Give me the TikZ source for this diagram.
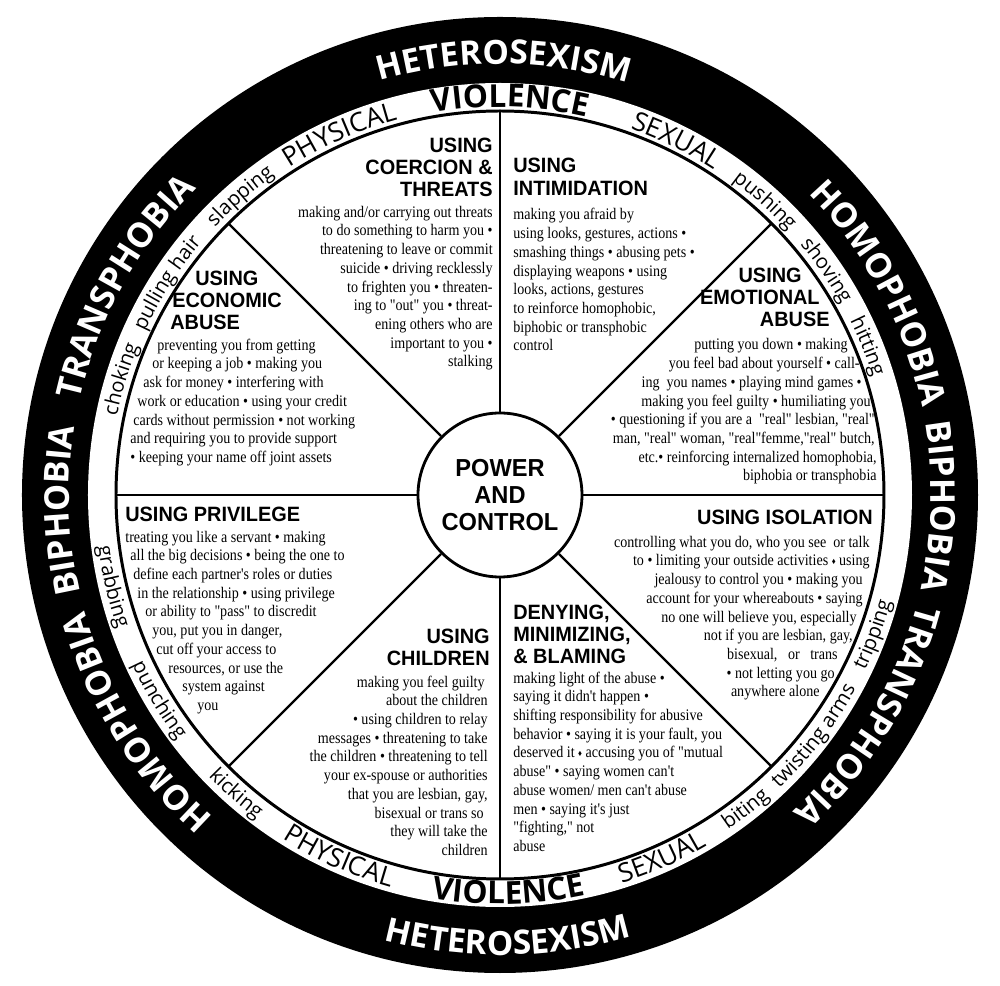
\documentclass[tikz,border=0pt]{standalone}
\usepackage{fontspec}
\usetikzlibrary{decorations.text}
\newfontfamily\bodyfont{Liberation Serif}[FakeStretch=0.87]
\newfontfamily\headfont{Liberation Sans}[FakeStretch=0.96]
\newfontfamily\ringfont{Open Sans}
\newcommand{\dmd}{\raisebox{0.25ex}{\fontsize{5}{5}\selectfont ♦}}
\newcommand{\wordfmt}{\fontsize{11.5}{11.5}\selectfont\ringfont}
\newcommand{\capfmt}{\fontsize{15}{15}\selectfont\ringfont}
\newcommand{\violfmt}{\fontsize{18}{18}\selectfont\ringfont\bfseries}
\newcommand{\bandfmt}{\fontsize{19}{19}\selectfont\ringfont\bfseries\color{white}}
\newcommand{\phobfmt}{\fontsize{19.5}{19.5}\selectfont\ringfont\bfseries\color{white}}
% text on the rings: centre angle, radius, format, text
\newcommand{\cwtext}[4]{\path[decorate,decoration={text along path,text align=center,text={|#3|#4}}] (#1+60:#2) arc[start angle=#1+60,end angle=#1-60,radius=#2];}
\newcommand{\ccwtext}[4]{\path[decorate,decoration={text along path,text align=center,text={|#3|#4}}] (#1-60:#2) arc[start angle=#1-60,end angle=#1+60,radius=#2];}

\begin{document}
\begin{tikzpicture}[
    spoke/.style={line width=1.4pt},
    heading/.style={font=\headfont\bfseries\fontsize{11.8}{12.8}\selectfont, inner sep=0pt},
    body/.style={font=\bodyfont\fontsize{9.2}{10.65}\selectfont, inner sep=0pt}]

        \useasboundingbox (-10,-9.82) rectangle (10,9.9);

        \fill[black] (0,0) circle (9.56cm);
        \fill[white] (0,0) circle (8.24cm);
        \draw[line width=1.7pt] (0,0) circle (7.68cm);

        \node[circle, draw, line width=1.6pt, fill=white, minimum size=3.28cm, inner sep=0pt, align=center,
              font=\headfont\bfseries\fontsize{14}{15.5}\selectfont] (pc) at (0,0) {POWER\\AND\\CONTROL};
        \foreach \a in {0,45,...,315}
            \draw[spoke] (pc.\a) -- (\a:7.68cm);

        % black band
        \cwtext{89.5}{8.62cm}{\bandfmt}{HETEROSEXISM}
        \cwtext{28}{8.62cm}{\phobfmt}{HOMOPHOBIA}
        \cwtext{-1.5}{8.62cm}{\phobfmt}{BIPHOBIA}
        \cwtext{-31}{8.62cm}{\phobfmt}{TRANSPHOBIA}
        \cwtext{151}{8.62cm}{\phobfmt}{TRANSPHOBIA}
        \cwtext{182}{8.62cm}{\phobfmt}{BIPHOBIA}
        \cwtext{212}{8.62cm}{\phobfmt}{HOMOPHOBIA}
        \ccwtext{271}{9.2cm}{\bandfmt}{HETEROSEXISM}

        % white ring, upper half
        \cwtext{88.5}{7.76cm}{\violfmt}{VIOLENCE}
        \cwtext{114}{7.78cm}{\capfmt}{PHYSICAL}
        \cwtext{63.5}{7.78cm}{\capfmt}{SEXUAL}
        \cwtext{131}{7.82cm}{\wordfmt}{slapping}
        \cwtext{147.5}{7.82cm}{\wordfmt}{pulling hair}
        \cwtext{163}{7.82cm}{\wordfmt}{choking}
        \cwtext{48}{7.82cm}{\wordfmt}{pushing}
        \cwtext{34.5}{7.82cm}{\wordfmt}{shoving}
        \cwtext{22}{7.82cm}{\wordfmt}{hitting}

        % white ring, lower half
        \ccwtext{271.2}{8.18cm}{\violfmt}{VIOLENCE}
        \ccwtext{246}{8.14cm}{\capfmt}{PHYSICAL}
        \ccwtext{294}{8.14cm}{\capfmt}{SEXUAL}
        \ccwtext{193.3}{8.1cm}{\wordfmt}{grabbing}
        \ccwtext{211}{8.1cm}{\wordfmt}{punching}
        \ccwtext{228.5}{8.1cm}{\wordfmt}{kicking}
        \ccwtext{308}{8.1cm}{\wordfmt}{biting}
        \ccwtext{322.5}{8.1cm}{\wordfmt}{twisting arms}
        \ccwtext{339.5}{8.1cm}{\wordfmt}{tripping}

        % coercion
        \node[heading, align=right, anchor=base east] (coerH) at (-0.14,5.96) {USING\\COERCION \&\\THREATS};
        \node[body, align=right, anchor=base east] (coerB) at (-0.14,2.56) {making and/or carrying out threats\\to do something to harm you •\\threatening to leave or commit\\suicide • driving recklessly\\to frighten you • threaten-\\ing to "out" you • threat-\\ening others who are\\important to you •\\stalking};

        % intimidation
        \node[heading, align=left, anchor=base west] (intiH) at (0.26,5.99) {USING\\INTIMIDATION};
        \node[body, align=left, anchor=base west] (intiB) at (0.26,2.88) {making you afraid by\\using looks, gestures, actions •\\smashing things • abusing pets •\\displaying weapons • using\\looks, actions, gestures\\to reinforce homophobic,\\biphobic or transphobic\\control};

        % economic abuse
        \node[heading, align=left, anchor=base west] (econH) at (-6.6,3.3) {\kern0.5cm USING\\\kern0.04cm ECONOMIC\\ABUSE};
        \node[body, align=left, anchor=base west] (econB) at (-7.4,0.65) {\kern0.54cm preventing you from getting\\\kern0.44cm or keeping a job • making you\\\kern0.26cm ask for money • interfering with\\\kern0.14cm work or education • using your credit\\\kern0.06cm cards without permission • not working\\and requiring you to provide support\\• keeping your name off joint assets};

        % emotional abuse
        \node[heading, align=right, anchor=base east] (emoH) at (6.6,3.36) {USING\kern0.56cm\\EMOTIONAL\kern0.2cm\\ABUSE};
        \node[body, align=right, anchor=base east] (emoB) at (7.54,0.28) {putting you down • making\kern0.58cm\\you feel bad about yourself • call-\kern0.34cm\\ing\ \ you names • playing mind games •\kern0.3cm\\making you feel guilty • humiliating you\kern0.12cm\\• questioning if you are a\ \ "real" lesbian, "real"\kern0.04cm\\man, "real" woman, "real"femme,"real" butch,\kern0.04cm\\etc.• reinforcing internalized homophobia,\\biphobia or transphobia};

        % privilege
        \node[heading, anchor=base west] (privH) at (-7.5,-0.54) {USING PRIVILEGE};
        \node[body, align=left, anchor=base west] (privB) at (-7.5,-4.31) {treating you like a servant • making\\\kern0.1cm all the big decisions • being the one to\\\kern0.16cm define each partner's roles or duties\\\kern0.24cm in the relationship • using privilege\\\kern0.4cm or ability to "pass" to discredit\\\kern0.54cm you, put you in danger,\\\kern0.62cm cut off your access to\\\kern0.86cm resources, or use the\\\kern1.14cm system against\\\kern1.44cm you};

        % isolation
        \node[heading, anchor=base east] (isoH) at (7.46,-0.6) {USING ISOLATION};
        \node[body, align=right, anchor=base east] (isoB) at (7.4,-4.04) {controlling what you do, who you see\ \ or talk\\to • limiting your outside activities \dmd{} using\\jealousy to control you • making you\kern0.14cm\\account for your whereabouts • saying\kern0.14cm\\no one will believe you, especially\kern0.26cm\\not if you are lesbian, gay,\kern0.34cm\\bisexual,\ \ \ or\ \ \ trans\kern0.64cm\\• not letting you go\kern0.7cm\\anywhere alone\kern1.0cm};

        % children
        \node[heading, align=right, anchor=base east] (chilH) at (-0.2,-3.41) {USING\\CHILDREN};
        \node[body, align=right, anchor=base east] (chilB) at (-0.24,-7.21) {making you feel guilty\kern0.06cm\\about the children\\• using children to relay\\messages • threatening to take\\the children • threatening to tell\\your ex-spouse or authorities\\that you are lesbian, gay,\\bisexual or trans so\kern0.08cm\\they will take the\\children};

        % denying
        \node[heading, align=left, anchor=base west] (denyH) at (0.26,-3.38) {DENYING,\\MINIMIZING,\\\& BLAMING};
        \node[body, align=left, anchor=base west] (denyB) at (0.26,-7.13) {making light of the abuse •\\saying it didn't happen •\\shifting responsibility for abusive\\behavior • saying it is your fault, you\\deserved it \dmd{} accusing you of "mutual\\abuse" • saying women can't\\abuse women/ men can't abuse\\men • saying it's just\\"fighting," not\\abuse};

    \end{tikzpicture}
\end{document}
